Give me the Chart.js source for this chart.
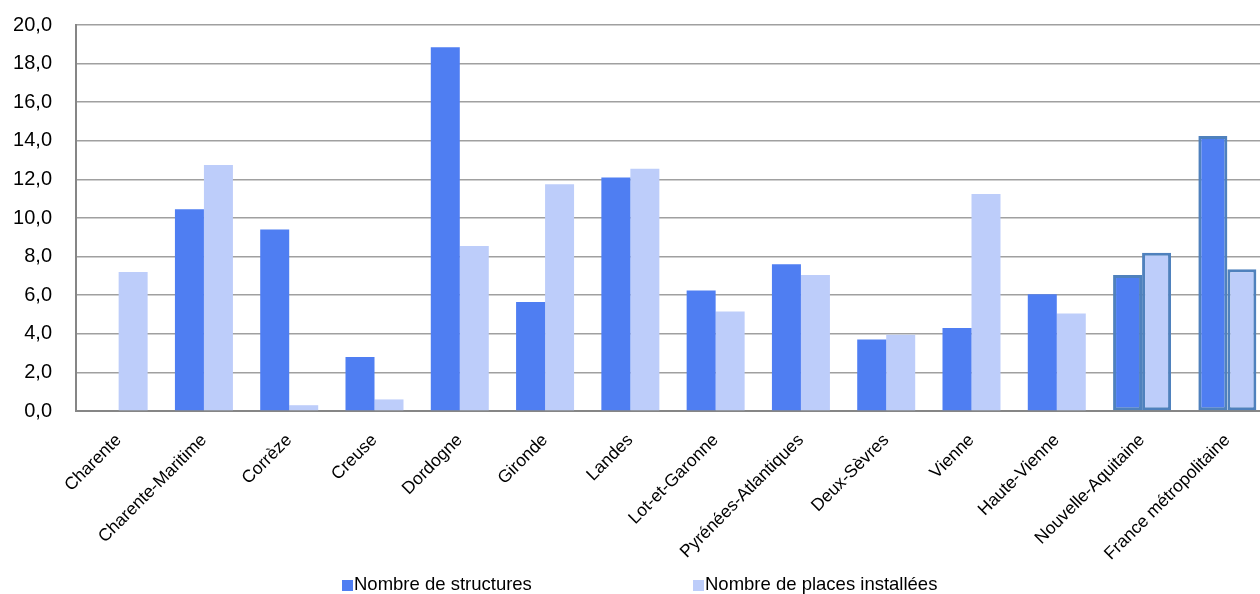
<!DOCTYPE html>
<html>
<head>
<meta charset="utf-8">
<script src="https://cdn.jsdelivr.net/npm/chart.js@4"></script>
<style>
  html, body { margin: 0; padding: 0; overflow: hidden; background: #fff; }
  #wrap { position: relative; width: 1270px; height: 594px; }
  .leg { position: absolute; top: 574px; font: 18.5px "Liberation Sans", Arial, sans-serif; color: #000; line-height: 20px; white-space: nowrap; }
  .leg span { display: inline-block; width: 11px; height: 11px; margin-right: 1px; vertical-align: -1px; }
</style>
</head>
<body>
<div id="wrap">
  <canvas id="chart"></canvas>
</div>
<div class="leg" style="left:342px"><span style="background:#4F7EF2"></span>Nombre de structures</div>
<div class="leg" style="left:693px"><span style="background:#BDCDFA"></span>Nombre de places installées</div>
<script>
// categories
var departements = ['Charente', 'Charente-Maritime', 'Corrèze', 'Creuse', 'Dordogne', 'Gironde', 'Landes',
  'Lot-et-Garonne', 'Pyrénées-Atlantiques', 'Deux-Sèvres', 'Vienne', 'Haute-Vienne', 'Nouvelle-Aquitaine',
  'France métropolitaine'];

// series values
var nbStructures = [0, 10.45, 9.4, 2.8, 18.85, 5.65, 12.1, 6.25, 7.6, 3.7, 4.3, 6.05, 7.05, 14.25];
var nbPlaces = [7.2, 12.75, 0.3, 0.6, 8.55, 11.75, 12.55, 5.15, 7.05, 3.95, 11.25, 5.05, 8.2, 7.35];

// y axis ticks
var yMin = 0, yMax = 20, yStep = 2;

var darkBlue = '#4F7EF2';
var lightBlue = '#BDCDFA';
var borderBlue = '#4F81BD';

// the two totals (last two columns) get an outline
var borders = departements.map(function (d, i) { return i >= 12 ? 3 : 0; });

var ctx = document.getElementById('chart').getContext('2d');
var myChart = new Chart(ctx, {
  type: 'bar',
  data: {
    labels: departements,
    datasets: [{
      label: 'Nombre de structures',
      data: nbStructures,
      backgroundColor: darkBlue,
      borderColor: borderBlue,
      borderWidth: borders,
      borderSkipped: false
    }, {
      label: 'Nombre de places installées',
      data: nbPlaces,
      backgroundColor: lightBlue,
      borderColor: borderBlue,
      borderWidth: borders,
      borderSkipped: false
    }]
  },
  options: {
    responsive: true,
    maintainAspectRatio: false,
    animation: false,
    layout: { padding: { top: 25, left: 0, right: 0, bottom: 0 } },
    datasets: {
      bar: { categoryPercentage: 0.68, barPercentage: 1.0 }
    },
    plugins: {
      legend: { display: false },
      tooltip: { enabled: false }
    },
    scales: {
      x: {
        grid: { display: false, drawTicks: false },
        border: { display: true, color: '#868686', width: 2 },
        ticks: {
          autoSkip: false,
          maxRotation: 45,
          minRotation: 45,
          padding: 19,
          color: '#000',
          font: { family: '"Liberation Sans", Arial, sans-serif', size: 17.5 }
        },
        afterFit: function (scale) { scale.height = 183; }
      },
      y: {
        min: yMin,
        max: yMax,
        grid: { color: '#A0A0A0', lineWidth: 1.5, drawTicks: false },
        border: { display: true, color: '#868686', width: 2 },
        ticks: {
          stepSize: yStep,
          padding: 24,
          color: '#000',
          font: { family: '"Liberation Sans", Arial, sans-serif', size: 20 },
          callback: function (v) { return v.toFixed(1).replace('.', ','); }
        },
        afterFit: function (scale) {
          scale.width = 76;
          // tick padding would otherwise push the plot top down
          scale.paddingTop = 0;
          scale.paddingBottom = 0;
        }
      }
    }
  }
});
</script>
</body>
</html>
